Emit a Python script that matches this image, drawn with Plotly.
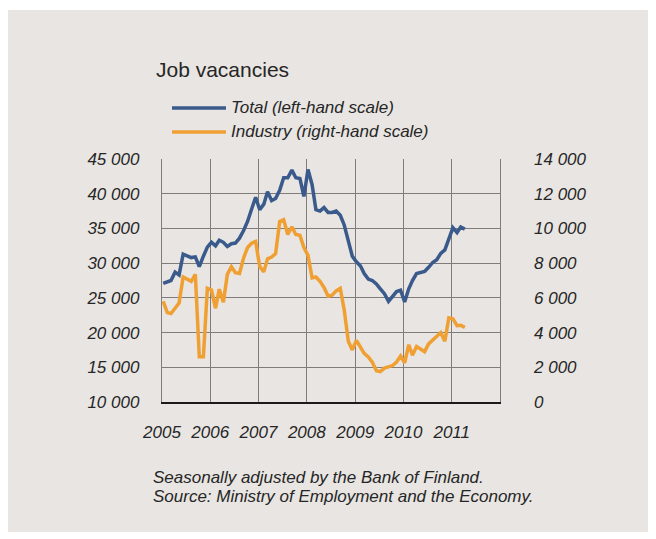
import plotly.graph_objects as go

# Monthly series, January 2005 - April 2011
months = [f"{2005 + k // 12}-{k % 12 + 1:02d}-10" for k in range(76)]

total = [
    27100, 27300, 27500, 28700, 28300, 31300, 31000, 30800, 30900, 29500, 31000, 32300,
    33000, 32500, 33300, 33000, 32400, 32800, 32900, 33600, 34700, 36000, 37800, 39500,
    37700, 38500, 40300, 39000, 39300, 40500, 42300, 42300, 43400, 42300, 42200, 39600,
    43500, 41300, 37700, 37500, 38000, 37300, 37300, 37500, 36900, 35500, 33200, 31000,
    30200, 29600, 28500, 27700, 27500, 27000, 26300, 25600, 24500, 25200, 25900, 26100,
    24400, 26300, 27500, 28500, 28700, 28800, 29400, 30100, 30500, 31400, 31900, 33500,
    35100, 34400, 35200, 34900,
]

industry = [
    5800, 5150, 5100, 5400, 5700, 7200, 7050, 6950, 7350, 2600, 2600, 6550,
    6450, 5400, 6500, 5750, 7350, 7800, 7450, 7400, 8300, 8900, 9150, 9250,
    7800, 7500, 8250, 8350, 8550, 10400, 10500, 9650, 10100, 9650, 9600, 8900,
    8450, 7150, 7200, 6950, 6600, 6100, 6150, 6400, 6550, 5300, 3500, 3000,
    3550, 3150, 2800, 2600, 2300, 1800, 1750, 1950, 2050, 2100, 2300, 2650,
    2250, 3300, 2700, 3200, 3050, 2900, 3350, 3550, 3750, 4000, 3500, 4850,
    4800, 4400, 4420, 4300,
]

years = list(range(2005, 2012))
left_ticks = list(range(10000, 45001, 5000))
right_ticks = list(range(0, 14001, 2000))

title = "Job vacancies"
legend_names = ["Total (left-hand scale)", "Industry (right-hand scale)"]
notes = ["Seasonally adjusted by the Bank of Finland.",
         "Source: Ministry of Employment and the Economy."]

BLUE = "#3A5A8C"
ORANGE = "#F0A032"
BG = "#E8E5E2"
GRID = "#7F7C79"
TEXT = "#262626"
FONT = "Liberation Sans, Arial, sans-serif"


def fmt(v):
    return f"{v:,}".replace(",", " ")


fig = go.Figure()
fig.add_trace(go.Scatter(x=months, y=industry, yaxis="y2", mode="lines",
                         name=legend_names[1], line=dict(color=ORANGE, width=3.5)))
fig.add_trace(go.Scatter(x=months, y=total, mode="lines",
                         name=legend_names[0], line=dict(color=BLUE, width=3.5)))

tickfont = dict(family=FONT, size=17, color=TEXT, style="italic")

fig.update_layout(
    width=656, height=539,
    margin=dict(l=162, r=156, t=159, b=137),
    paper_bgcolor="white",
    plot_bgcolor=BG,
    showlegend=False,
    font=dict(family=FONT, color=TEXT),
    xaxis=dict(
        type="date",
        range=["2005-01-01", "2012-01-01"],
        tickvals=[f"{y}-01-01" for y in years],
        ticktext=[str(y) for y in years],
        showgrid=True, gridcolor=GRID, gridwidth=1.4,
        showline=True, linecolor="#1A1A1A", linewidth=1.6,
        ticks="", tickfont=tickfont, ticklabelstandoff=14,
        zeroline=False,
    ),
    yaxis=dict(
        range=[10000, 45000],
        tickvals=left_ticks,
        ticktext=[fmt(v) for v in left_ticks],
        showgrid=True, gridcolor=GRID, gridwidth=1.4,
        showline=True, mirror=True, linecolor=GRID, linewidth=1.4,
        ticks="", tickfont=tickfont, ticklabelstandoff=18,
        zeroline=False,
    ),
    yaxis2=dict(
        range=[0, 14000],
        overlaying="y", side="right",
        tickvals=right_ticks,
        ticktext=[fmt(v) for v in right_ticks],
        showgrid=False, showline=False,
        ticks="", tickfont=tickfont, ticklabelstandoff=33,
        zeroline=False,
    ),
)

# panel background
fig.add_shape(type="rect", xref="paper", yref="paper",
              x0=-0.4556, x1=1.4379, y0=-0.535, y1=1.6132,
              fillcolor=BG, line_width=0, layer="below")

# title
fig.add_annotation(text=title, xref="paper", yref="paper", x=-0.0237, y=1.370,
                   xanchor="left", yanchor="middle", showarrow=False,
                   font=dict(family=FONT, size=21, color=TEXT))

# legend
for name, color, y in zip(legend_names, [BLUE, ORANGE], [1.210, 1.1112]):
    fig.add_shape(type="line", xref="paper", yref="paper",
                  x0=0.0296, x1=0.1893, y0=y, y1=y,
                  line=dict(color=color, width=3.5))
    fig.add_annotation(text=name, xref="paper", yref="paper", x=0.198, y=y,
                       xanchor="left", yanchor="middle", showarrow=False,
                       font=dict(family=FONT, size=17, color=TEXT, style="italic"))

# notes
for line, y in zip(notes, [-0.3107, -0.389]):
    fig.add_annotation(text=line, xref="paper", yref="paper", x=-0.0326, y=y,
                       xanchor="left", yanchor="middle", showarrow=False,
                       font=dict(family=FONT, size=17, color=TEXT, style="italic"))

fig.write_html("out.html")
